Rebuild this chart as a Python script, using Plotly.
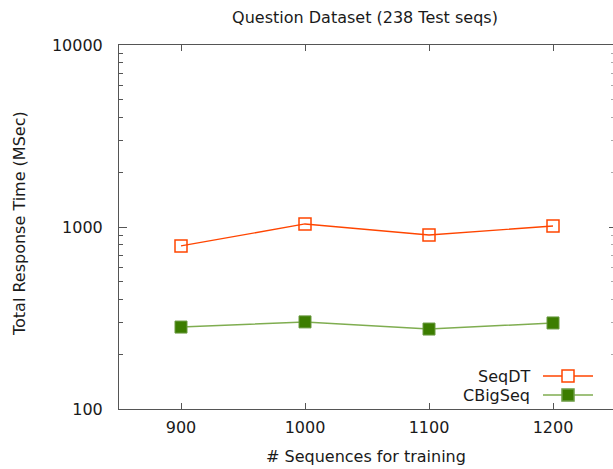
import plotly.graph_objects as go

x_vals = [900, 1000, 1100, 1200]
seqdt = [787, 1039, 904, 1013]
cbigseq = [282, 301, 275, 297]
series_names = ["SeqDT", "CBigSeq"]
y_tickvals = [100, 1000, 10000]
y_ticktext = ["100", "1000", "10000"]
x_tickvals = [900, 1000, 1100, 1200]

W, H = 613, 469
L, R, T, B = 119, 0, 45, 60
pw = W - L - R
ph = H - T - B

FONT = "DejaVu Sans"
FS = 16
TXT = "#1a1a1a"
AX = "#555555"
ORANGE = "#ff4500"
GREEN_M = "#3c7d00"
GREEN_L = "#7fad50"

fig = go.Figure()
fig.add_trace(go.Scatter(
    x=x_vals, y=seqdt, name=series_names[0], mode="lines+markers",
    line=dict(color=ORANGE, width=1.3),
    marker=dict(symbol="square-open", size=12, color=ORANGE, line=dict(width=1.5, color=ORANGE)),
))
fig.add_trace(go.Scatter(
    x=x_vals, y=cbigseq, name=series_names[1], mode="lines+markers",
    line=dict(color=GREEN_L, width=1.5),
    marker=dict(symbol="square", size=12, color=GREEN_M, line=dict(width=1, color="#6a9a40")),
))

x_range = [850, 850 + pw / 1.24]

fig.update_layout(
    width=W, height=H,
    margin=dict(l=L, r=R, t=T, b=B, autoexpand=False),
    paper_bgcolor="white", plot_bgcolor="white",
    showlegend=False,
    font=dict(family=FONT, size=FS, color=TXT),
    title=dict(text="Question Dataset (238 Test seqs)", x=(365) / W, xanchor="center",
               y=1 - 17 / H, yanchor="middle", font=dict(size=FS, color=TXT, family=FONT)),
    xaxis=dict(range=x_range, tickvals=x_tickvals, ticks="inside", ticklen=6, tickcolor=AX,
               showline=True, linecolor=AX, linewidth=1, mirror="ticks", showgrid=False,
               zeroline=False, tickfont=dict(size=FS, color=TXT), ticklabelstandoff=4),
    yaxis=dict(type="log", range=[2, 4], tickvals=y_tickvals, ticktext=y_ticktext,
               ticks="inside", ticklen=8, tickcolor=AX, showline=True, linecolor=AX, linewidth=1,
               showgrid=False, zeroline=False, tickfont=dict(size=FS, color=TXT),
               ticklabelstandoff=12,
               minor=dict(ticks="inside", ticklen=4, tickcolor=AX, dtick="D1", showgrid=False)),
    yaxis2=dict(type="log", range=[2, 4], overlaying="y", side="right", tickvals=y_tickvals,
                showticklabels=False, ticks="inside", ticklen=4, tickcolor=AX, showline=False,
                showgrid=False, zeroline=False,
                minor=dict(ticks="inside", ticklen=2, tickcolor="#aaaaaa", dtick="D1", showgrid=False)),
)
fig.add_trace(go.Scatter(x=[x_vals[0]], y=[seqdt[0]], yaxis="y2", mode="markers",
                         marker=dict(opacity=0), hoverinfo="skip", showlegend=False))

fig.add_annotation(text="Total Response Time (MSec)", xref="paper", yref="paper",
                   x=(19 - L) / pw, y=(H - B - 224) / ph, textangle=-90, showarrow=False,
                   xanchor="center", yanchor="middle", font=dict(size=FS, color=TXT))
fig.add_annotation(text="# Sequences for training", xref="paper", yref="paper",
                   x=(366 - L) / pw, y=-(456 - (H - B)) / ph, showarrow=False,
                   xanchor="center", yanchor="middle", font=dict(size=FS, color=TXT))

leg = [(series_names[0], 376, ORANGE, ORANGE, "white"),
       (series_names[1], 395, GREEN_L, "#6a9a40", GREEN_M)]
for name, ypx, lc, mc, fc in leg:
    yp = (H - B - ypx) / ph
    fig.add_annotation(text=name, xref="paper", yref="paper", x=(532 - L) / pw, y=yp,
                       xanchor="right", yanchor="middle", showarrow=False,
                       font=dict(size=FS, color=TXT))
    fig.add_shape(type="line", xref="paper", yref="paper", x0=(543 - L) / pw, x1=(593 - L) / pw,
                  y0=yp, y1=yp, line=dict(color=lc, width=1.3))
    fig.add_shape(type="rect", xref="paper", yref="paper", xsizemode="pixel", ysizemode="pixel",
                  xanchor=(568 - L) / pw, yanchor=yp, x0=-6, x1=6, y0=-6, y1=6,
                  line=dict(color=mc, width=1.5), fillcolor=fc)

fig.write_html("out.html", config={"displayModeBar": False},
               post_script="document.body.style.margin='0';document.body.style.overflow='hidden';")
